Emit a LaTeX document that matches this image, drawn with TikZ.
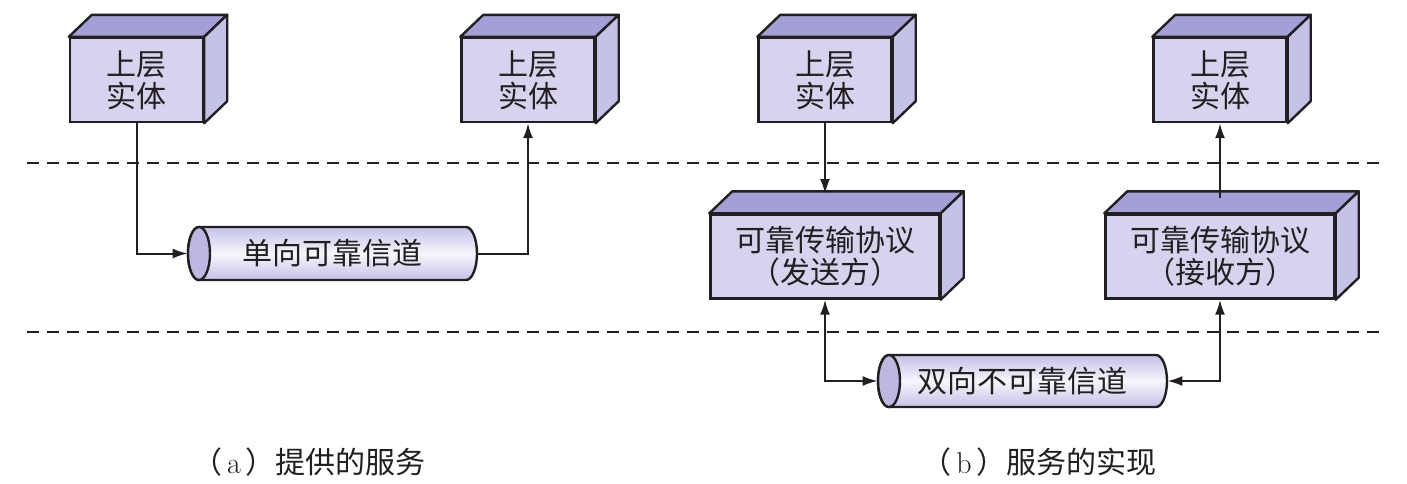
\documentclass[tikz,border=0pt]{standalone}
\usepackage{fontspec}
\newfontfamily\cjk{Noto Sans CJK SC}
\usetikzlibrary{arrows.meta}
\definecolor{frontc}{HTML}{D6D3EF}
\definecolor{topc}{HTML}{A3A0D8}
\definecolor{sidec}{HTML}{C5C2E8}
\definecolor{cylc}{HTML}{C4C1E7}
\definecolor{capc}{HTML}{BCB8E2}
\definecolor{inkc}{HTML}{231F20}
\tikzset{
  front/.style={draw=inkc, line width=1.2pt, fill=frontc, minimum width=66.5pt, minimum height=42pt, inner sep=0pt, align=center, font=\cjk\fontsize{15}{16}\selectfont, text=inkc},
  wide/.style={front, minimum width=114.5pt},
  face/.style={draw=inkc, line width=1.2pt, line join=round},
  conn/.style={draw=inkc, line width=1pt, -{Latex[length=7.5pt,width=5pt]}},
  dconn/.style={draw=inkc, line width=1pt, {Latex[length=7.5pt,width=5pt]}-{Latex[length=7.5pt,width=5pt]}},
  sep/.style={draw=inkc, line width=1pt, dash pattern=on 6pt off 4pt},
  cyltext/.style={minimum width=144.5pt, minimum height=26.5pt, inner sep=0pt, font=\cjk\fontsize{15}{16}\selectfont, text=inkc},
  caption/.style={font=\cjk\fontsize{15}{16}\selectfont, text=inkc}
}
\newcommand{\boxthreed}[1]{%
  \filldraw[face, fill=topc] (#1.north west) -- ++(23,-22) -- ([xshift=11.5pt,yshift=11pt]#1.north east) -- (#1.north east) -- cycle;
  \filldraw[face, fill=sidec] (#1.north east) -- ++(23,-22) -- ([xshift=11.5pt,yshift=11pt]#1.south east) -- (#1.south east) -- cycle;}
\newcommand{\cylshape}[4]{% x1 x2 ytop ybot
  \shade[top color=cylc, bottom color=cylc, middle color=white!85!cylc]
    (#1+11,#3) -- (#2-11,#3) arc[start angle=270, end angle=450, x radius=11, y radius={(#4-#3)/2}]
    -- (#1+11,#4) arc[start angle=90, end angle=270, x radius=11, y radius={(#4-#3)/2}] -- cycle;
  \draw[inkc, line width=1.2pt]
    (#1+11,#3) -- (#2-11,#3) arc[start angle=270, end angle=450, x radius=11, y radius={(#4-#3)/2}]
    -- (#1+11,#4) arc[start angle=90, end angle=270, x radius=11, y radius={(#4-#3)/2}] -- cycle;
  \filldraw[draw=inkc, line width=1.2pt, fill=capc] (#1+11,{(#3+#4)/2}) ellipse [x radius=11, y radius={(#4-#3)/2}];}
\begin{document}
\begin{tikzpicture}[x=0.5pt,y=-0.5pt]
\useasboundingbox (0,0) rectangle (1407,483);
% dashed separators
\draw[sep] (27,163) -- (1384,163);
\draw[sep] (27,332) -- (1384,332);
% boxes
\node[front] (b1) at (136.5,80) {上层\\实体};
\node[front] (b2) at (528,80) {上层\\实体};
\node[front] (b3) at (825,80) {上层\\实体};
\node[front] (b4) at (1220,80) {上层\\实体};
\node[wide] (b5) at (825,256.5) {可靠传输协议\\（发送方）};
\node[wide] (b6) at (1220,256.5) {可靠传输协议\\（接收方）};
\boxthreed{b1}\boxthreed{b2}\boxthreed{b3}\boxthreed{b4}\boxthreed{b5}\boxthreed{b6}
% cylinders
\cylshape{188}{477}{227}{280}
\node[cyltext] (c1) at (332.5,253.5) {单向可靠信道};
\cylshape{878}{1167}{355}{407}
\node[cyltext] (c2) at (1022.5,381) {双向不可靠信道};
% connector end points on top faces
\coordinate (t5) at (825,194);
\coordinate (t6) at (1220,198);
% connectors
\draw[conn] (b1.south) |- (c1.west);
\draw[conn] (c1.east) -| (b2.south);
\draw[conn] (b3.south) -- (t5);
\draw[conn] (t6) -- (b4.south);
\draw[dconn] (b5.south) |- (c2.west);
\draw[dconn] (c2.east) -| (b6.south);
% captions
\node[caption] (capa) at (309,462) {（\,{\rmfamily a}\,）提供的服务};
\node[caption] (capb) at (1039,462) {（\,{\rmfamily b}\,）服务的实现};
\end{tikzpicture}
\end{document}
